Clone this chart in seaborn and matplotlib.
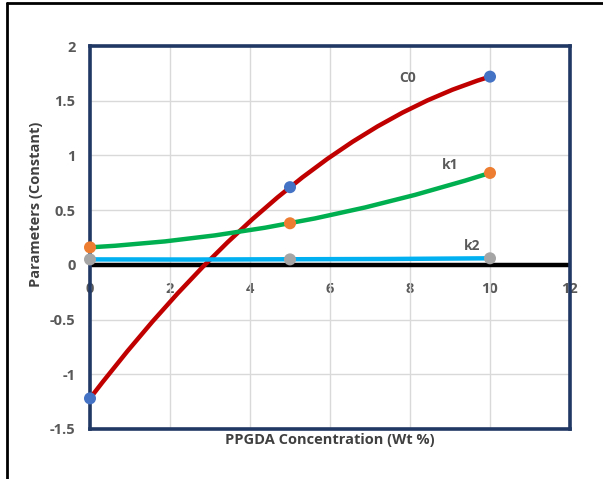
import matplotlib
matplotlib.use("Agg")
import matplotlib.pyplot as plt
from matplotlib.path import Path
from matplotlib.patches import PathPatch
from matplotlib.lines import Line2D
import seaborn as sns
import pandas as pd
import numpy as np

# Data
conc = [0, 5, 10]
c0 = [-1.22, 0.71, 1.72]
k1 = [0.16, 0.38, 0.84]
k2 = [0.05, 0.05, 0.06]
x_ticks = [0, 2, 4, 6, 8, 10, 12]
y_ticks = [-1.5, -1.0, -0.5, 0, 0.5, 1.0, 1.5, 2.0]
y_ticklabels = ["-1.5", "-1", "-0.5", "0", "0.5", "1", "1.5", "2"]

series = [
    ("C0", c0, "#C00000", "#4472C4", (7.93, 1.71)),
    ("k1", k1, "#00B050", "#ED7D31", (9.0, 0.91)),
    ("k2", k2, "#00B0F0", "#A5A5A5", (9.55, 0.17)),
]

sns.set_theme(style="white")
plt.rcParams["font.family"] = ["Open Sans", "DejaVu Sans"]

fig = plt.figure(figsize=(6.03, 4.79), dpi=100)
ax = fig.add_axes([90 / 603, 1 - 429 / 479, 480 / 603, 383 / 479])

ax.set_xlim(0, 12)
ax.set_ylim(-1.5, 2)
ax.set_xticks(x_ticks)
ax.set_yticks(y_ticks)
ax.set_yticklabels(y_ticklabels)
ax.tick_params(axis="x", length=0, labelbottom=False)
ax.tick_params(axis="y", length=0, pad=10.5, labelsize=10.5, labelcolor="#595959")
for lab in ax.get_yticklabels():
    lab.set_fontweight("bold")
ax.grid(True, color="#D9D9D9", lw=1.0, zorder=0)
ax.set_axisbelow(True)
for sp in ax.spines.values():
    sp.set_color("#203864")
    sp.set_linewidth(2.6)
    sp.set_zorder(6)

# zero line
ax.axhline(0, color="black", lw=3.2, zorder=2)

# smoothed lines (quadratic bezier through the three points)
for i, (name, vals, lc, mc, lpos) in enumerate(series):
    p0 = np.array([conc[0], vals[0]])
    p1 = np.array([conc[1], vals[1]])
    p2 = np.array([conc[2], vals[2]])
    ctrl = 2 * p1 - (p0 + p2) / 2
    path = Path([p0, ctrl, p2], [Path.MOVETO, Path.CURVE3, Path.CURVE3])
    ax.add_patch(PathPatch(path, facecolor="none", edgecolor=lc, lw=3.2,
                           capstyle="round", zorder=3 + i))

# markers
for i, (name, vals, lc, mc, lpos) in enumerate(series):
    df = pd.DataFrame({"x": conc, "y": vals})
    sns.scatterplot(data=df, x="x", y="y", ax=ax, color=mc, s=75,
                    edgecolor="none", zorder=7, clip_on=False)
    ax.text(lpos[0], lpos[1], name, fontsize=10, fontweight="bold",
            color="#595959", ha="center", va="center", zorder=8)

ax.set_xlabel("")
ax.set_ylabel("")

# x tick labels along the zero line
sec = ax.secondary_xaxis(1.5 / 3.5)
sec.set_xticks(x_ticks)
sec.set_xticklabels([str(t) for t in x_ticks])
sec.tick_params(length=0, pad=12, labelsize=10.5, labelcolor="#595959")
for lab in sec.get_xticklabels():
    lab.set_fontweight("bold")
sec.spines["bottom"].set_visible(False)
sec.spines["top"].set_visible(False)

fig.text(330 / 603, 1 - 440 / 479, "PPGDA Concentration (Wt %)", fontsize=10.5,
         fontweight="bold", color="#404040", ha="center", va="center")
ax.set_ylabel("Parameters (Constant)", fontsize=10.5, fontweight="bold",
              color="#404040")
ax.yaxis.set_label_coords(-0.097, 0.587)

# outer frame (left and top edges)
fig.add_artist(Line2D([7 / 603, 7 / 603], [0, 1 - 3 / 479], color="black", lw=2,
                      transform=fig.transFigure))
fig.add_artist(Line2D([7 / 603, 1], [1 - 3 / 479, 1 - 3 / 479], color="black", lw=2,
                      transform=fig.transFigure))

fig.savefig("out.png", dpi=100)
